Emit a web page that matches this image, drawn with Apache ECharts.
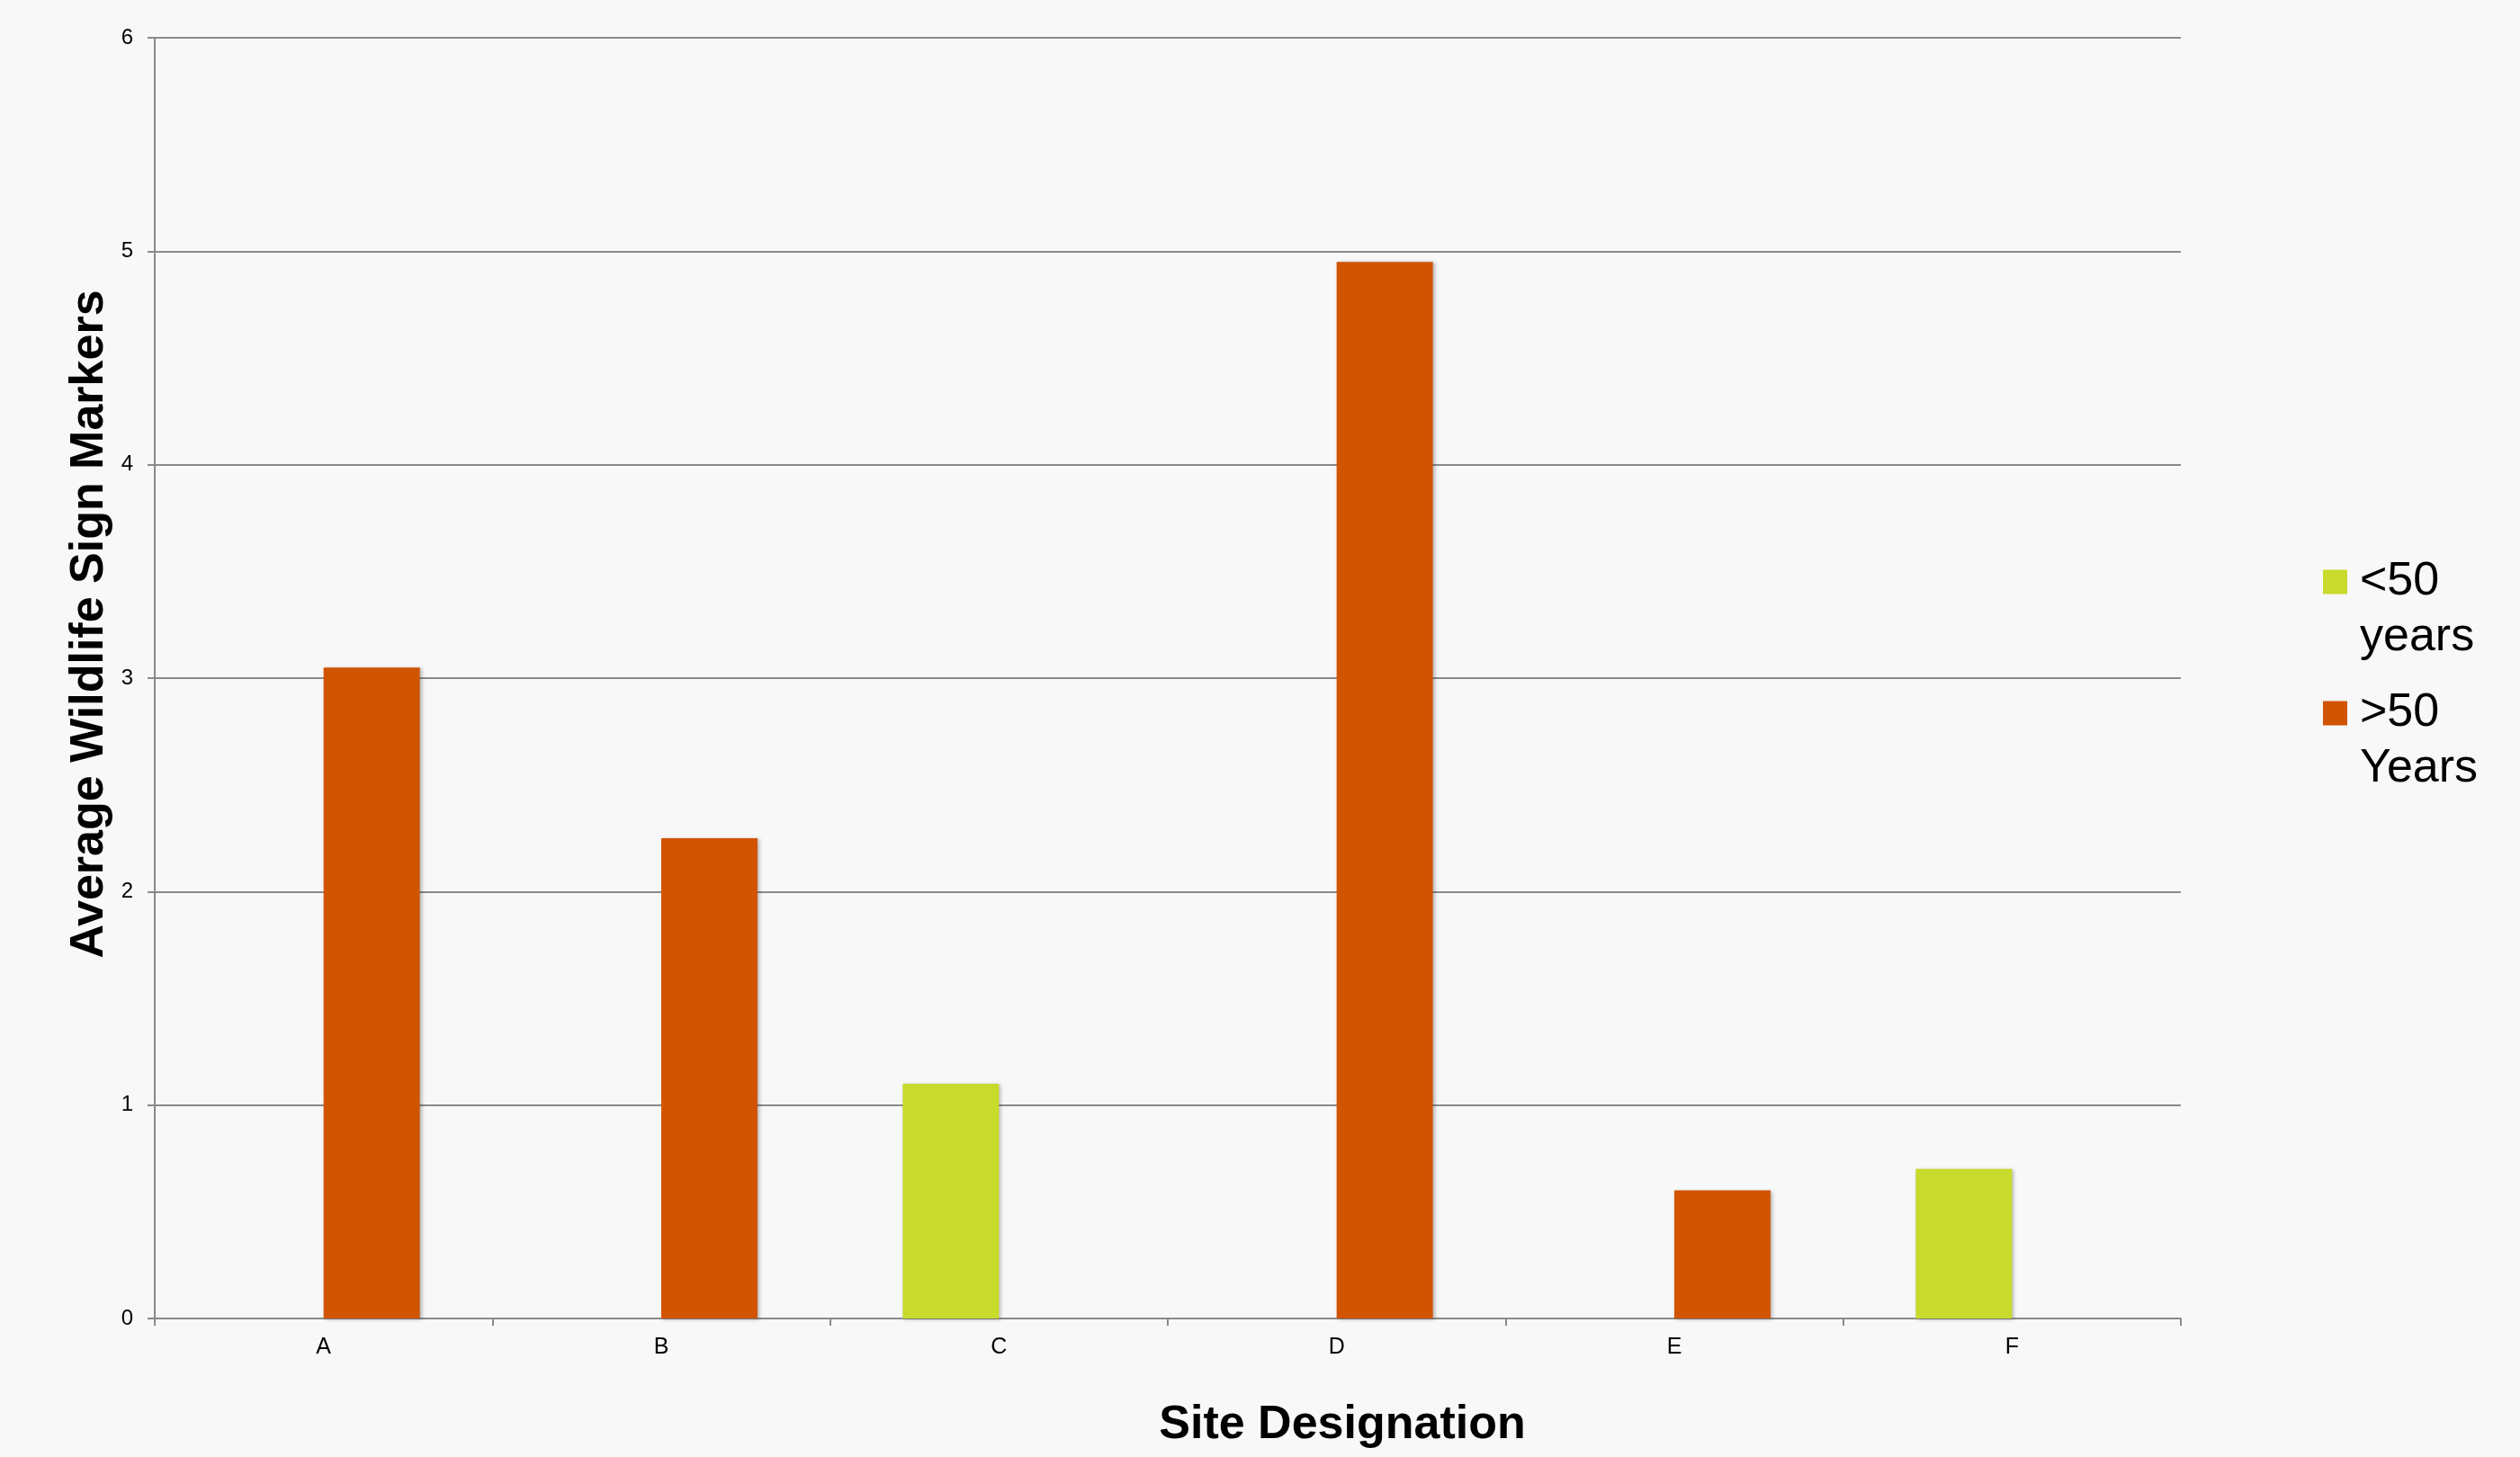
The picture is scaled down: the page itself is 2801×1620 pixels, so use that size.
<!DOCTYPE html>
<html>
<head>
<meta charset="utf-8">
<script src="https://cdn.jsdelivr.net/npm/echarts@6/dist/echarts.min.js"></script>
<style>
html,body{margin:0;padding:0;background:#f8f8f8;}
#chart{width:2801px;height:1620px;}
</style>
</head>
<body>
<div id="chart"></div>
<script>
const categories = ['A', 'B', 'C', 'D', 'E', 'F'];
const seriesNames = ['<50 years', '>50 Years'];
const under50 = [null, null, 1.1, null, null, 0.7];
const over50 = [3.05, 2.25, null, 4.95, 0.6, null];
const yTicks = [0, 1, 2, 3, 4, 5, 6];
const xTitle = 'Site Designation';
const yTitle = 'Average Wildlife Sign Markers';

const FONT = '"Liberation Sans", Arial, sans-serif';
const GREEN = '#c8da2b';
const ORANGE = '#d15400';
const AXIS = '#8a8a8a';

const chart = echarts.init(document.getElementById('chart'), null, {renderer: 'canvas'});

function legendFor(name, color, top) {
  return {
    data: [{name: name, icon: 'rect', itemStyle: {color: color}}],
    left: 2582,
    top: top,
    orient: 'vertical',
    padding: 0,
    itemWidth: 27,
    itemHeight: 27,
    itemGap: 14,
    selectedMode: false,
    formatter: n => '{t| }\n' + n.split(' ').map(p => '{t|' + p + '}').join('\n'),
    textStyle: {
      fontFamily: FONT,
      fontSize: 52,
      lineHeight: 62,
      color: '#000',
      rich: {
        t: {
          fontFamily: FONT,
          fontSize: 52,
          lineHeight: 62,
          color: '#000',
          padding: [0, 0, 0, 9]
        }
      }
    }
  };
}

const shadow = {
  shadowColor: 'rgba(0,0,0,0.28)',
  shadowBlur: 4,
  shadowOffsetX: 2,
  shadowOffsetY: 1
};

chart.setOption({
  backgroundColor: '#f8f8f8',
  animation: false,
  grid: {left: 172, top: 42, right: 377, bottom: 154, containLabel: false},
  legend: [
    legendFor(seriesNames[0], GREEN, 554),
    legendFor(seriesNames[1], ORANGE, 700)
  ],
  xAxis: {
    type: 'category',
    data: categories,
    axisLine: {show: true, lineStyle: {color: AXIS, width: 2}},
    axisTick: {show: true, length: 8, lineStyle: {color: AXIS, width: 2}},
    axisLabel: {fontFamily: FONT, fontSize: 25, color: '#000', margin: 20}
  },
  yAxis: {
    type: 'value',
    min: yTicks[0],
    max: yTicks[yTicks.length - 1],
    interval: 1,
    axisLine: {show: true, lineStyle: {color: AXIS, width: 2}},
    axisTick: {show: true, length: 8, lineStyle: {color: AXIS, width: 2}},
    splitLine: {show: true, lineStyle: {color: AXIS, width: 2}},
    axisLabel: {fontFamily: FONT, fontSize: 24, color: '#000', margin: 24}
  },
  series: [
    {
      name: seriesNames[0],
      type: 'bar',
      data: under50,
      barWidth: '28.5%',
      barGap: '0%',
      itemStyle: Object.assign({color: GREEN}, shadow)
    },
    {
      name: seriesNames[1],
      type: 'bar',
      data: over50,
      barWidth: '28.5%',
      barGap: '0%',
      itemStyle: Object.assign({color: ORANGE}, shadow)
    }
  ],
  graphic: [
    {
      type: 'text',
      x: 100,
      y: 694,
      rotation: Math.PI / 2,
      style: {
        text: yTitle,
        fontFamily: FONT,
        fontSize: 52,
        fontWeight: 'bold',
        fill: '#000',
        align: 'center',
        verticalAlign: 'middle'
      }
    },
    {
      type: 'text',
      x: 1492,
      y: 1585,
      style: {
        text: xTitle,
        fontFamily: FONT,
        fontSize: 52,
        fontWeight: 'bold',
        fill: '#000',
        align: 'center',
        verticalAlign: 'middle'
      }
    }
  ]
});
</script>
</body>
</html>
